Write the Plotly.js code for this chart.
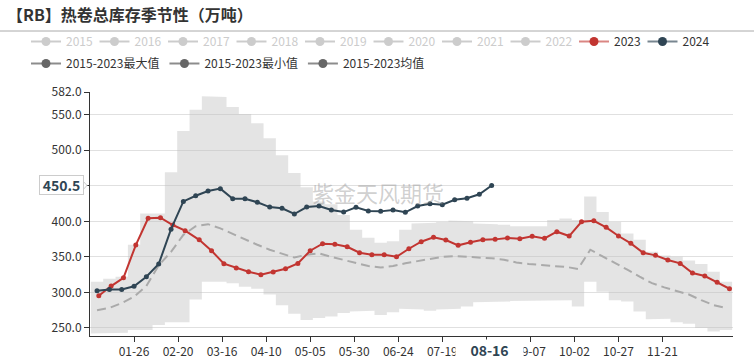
<!DOCTYPE html>
<html><head><meta charset="utf-8">
<script src="https://cdn.plot.ly/plotly-3.0.1.min.js"></script>
<style>html,body{margin:0;padding:0;background:#fff}#chart{width:754px;height:360px}</style>
</head><body><div id="chart"></div>
<script>
const titleText = '【RB】热卷总库存季节性（万吨）';
const watermarkText = '紫金天风期货';

// weekly positions (2024 Fridays) used by 2024 data and 2015-2023 statistics
const weekDates = ['2024-01-05','2024-01-12','2024-01-19','2024-01-26','2024-02-02','2024-02-09','2024-02-16','2024-02-23',
  '2024-03-01','2024-03-08','2024-03-15','2024-03-22','2024-03-29','2024-04-05','2024-04-12','2024-04-19','2024-04-26',
  '2024-05-03','2024-05-10','2024-05-17','2024-05-24','2024-05-31','2024-06-07','2024-06-14','2024-06-21','2024-06-28',
  '2024-07-05','2024-07-12','2024-07-19','2024-07-26','2024-08-02','2024-08-09','2024-08-16','2024-08-23','2024-08-30',
  '2024-09-06','2024-09-13','2024-09-20','2024-09-27','2024-10-04','2024-10-11','2024-10-18','2024-10-25',
  '2024-11-01','2024-11-08','2024-11-15','2024-11-22','2024-11-29','2024-12-06','2024-12-13','2024-12-20','2024-12-27'];

// 2023 weekly dates, month-day placed on the seasonal axis
const dates2023 = ['2024-01-06','2024-01-13','2024-01-20','2024-01-27','2024-02-03','2024-02-10','2024-02-17','2024-02-24',
  '2024-03-03','2024-03-10','2024-03-17','2024-03-24','2024-03-31','2024-04-07','2024-04-14','2024-04-21','2024-04-28',
  '2024-05-05','2024-05-12','2024-05-19','2024-05-26','2024-06-02','2024-06-09','2024-06-16','2024-06-23','2024-06-30',
  '2024-07-07','2024-07-14','2024-07-21','2024-07-28','2024-08-04','2024-08-11','2024-08-18','2024-08-25',
  '2024-09-01','2024-09-08','2024-09-15','2024-09-22','2024-09-29','2024-10-06','2024-10-13','2024-10-20','2024-10-27',
  '2024-11-03','2024-11-10','2024-11-17','2024-11-24','2024-12-01','2024-12-08','2024-12-15','2024-12-22','2024-12-29'];

const values2023 = [295.2,308.9,320.6,366.6,404.2,405.1,394.8,386.8,374.0,358.6,
  340.3,334.2,329.0,324.8,328.6,333.2,340.8,358.6,368.5,367.6,
  364.2,355.8,353.0,353.0,350.1,361.4,371.3,377.5,373.7,366.2,
  370.4,374.1,374.6,376.5,375.5,378.9,376.0,385.4,379.3,399.4,
  400.8,391.5,379.3,369.0,355.8,352.1,345.5,340.8,327.2,323.0,
  314.1,305.1];

const dates2024 = weekDates.slice(0, 33);
const values2024 = [302.3,304.2,304.2,308.5,322.0,339.9,389.0,428.0,436.0,442.7,
  446.0,431.8,431.8,426.8,420.0,418.3,410.3,420.1,421.5,416.0,
  413.0,419.7,414.5,414.0,416.0,412.7,421.5,424.8,423.4,430.4,
  432.4,438.0,450.5];

const bandMax = [315,319,322,367,411,411,469,527,557,576,
  575,561,551,538,517,493,468,448,428,424,
  409,388,377,370,372,388,397,398,399,401,
  400,397,396,395,393,392,393,402,404,402,
  435,413,399,383,374,357,352,350,345,340,
  329,315];
const bandMin = [242,242,243,247,247,254,258,258,290,315,
  315,313,308,305,297,282,270,261,264,266,
  271,273,274,268,272,277,276,274,276,277,
  280,286,287,287,288,288,288,288,289,280,
  315,301,289,287,273,262,263,258,256,250,
  245,247];
const bandMean = [275,278,285,294,309,338,357,381,393,396,
  390,382,375,367,360,354,349,353,355,350,
  346,341,337,335,337,341,344,347,350,351,
  350,350,348,346,342,340,338,337,336,333,
  360,351,341,332,322,313,307,302,297,289,
  282,278];

const hiddenYears = ['2015','2016','2017','2018','2019','2020','2021','2022'];
const tickDates = ['2024-01-26','2024-02-20','2024-03-16','2024-04-10','2024-05-05','2024-05-30','2024-06-24',
  '2024-07-19','2024-08-13','2024-09-07','2024-10-02','2024-10-27','2024-11-21'];
const tickLabels = ['01-26','02-20','03-16','04-10','05-05','05-30','06-24','07-19','08-13','09-07','10-02','10-27','11-21'];
const yTicks = [250,300,350,400,450,500,550,582];
const pointerDate = '2024-08-16';
const pointerDateLabel = '08-16';

const C23 = '#c23531', C24 = '#2f4554';
const FONT = 'Noto Sans CJK SC, Noto Sans, sans-serif';
const L = 90, R = 21, T = 92, B = 24, W = 754 - L - R, H = 360 - T - B;
const px2x = p => (p - L) / W;
const py2y = p => 1 - (p - T) / H;
const lastVal = values2024[values2024.length - 1];
const yPerPx = (582 - 238.6) / H;

// labels hidden under the axis-pointer labels (450.5 / 08-16)
const yTickText = yTicks.map(v => v === 450 ? '' : v.toFixed(1));
const xTickText = tickLabels.map(t => t === '08-13' ? '' : t);

// max-min band: each week spans +-3.5 days around its date (step outline, one closed polygon)
const HALF_WEEK = 3.5 * 86400000;
const iso = ms => new Date(ms).toISOString().slice(0, 19).replace('T', ' ');
const bandX = [], bandY = [];
weekDates.forEach((d, i) => {
  const t = Date.parse(d + 'T00:00:00Z');
  bandX.push(iso(t - HALF_WEEK), iso(t + HALF_WEEK));
  bandY.push(bandMax[i], bandMax[i]);
});
for (let i = weekDates.length - 1; i >= 0; i--) {
  const t = Date.parse(weekDates[i] + 'T00:00:00Z');
  bandX.push(iso(t + HALF_WEEK), iso(t - HALF_WEEK));
  bandY.push(bandMin[i], bandMin[i]);
}

const traces = [];
traces.push({
  type: 'scatter', mode: 'lines', x: bandX, y: bandY, fill: 'toself',
  fillcolor: 'rgba(190,190,190,0.42)', line: {width: 0, color: 'rgba(0,0,0,0)'},
  showlegend: false, hoverinfo: 'skip'
});
traces.push({
  type: 'scatter', mode: 'lines', x: weekDates, y: bandMean,
  line: {color: '#aaaaaa', width: 2, dash: '9px,5px'}, showlegend: false, hoverinfo: 'skip'
});
traces.push({
  type: 'scatter', mode: 'lines+markers', x: dates2023, y: values2023,
  line: {color: C23, width: 2}, marker: {color: C23, size: 5}, showlegend: false
});
traces.push({
  type: 'scatter', mode: 'lines+markers', x: dates2024, y: values2024,
  line: {color: C24, width: 2}, marker: {color: C24, size: 5}, showlegend: false
});

// legend entries
hiddenYears.forEach(yr => traces.push({
  type: 'scatter', mode: 'lines+markers', x: [null], y: [null], legend: 'legend',
  name: '<span style="color:#cccccc">' + yr + '</span>',
  line: {color: '#cccccc', width: 2}, marker: {color: '#cccccc', size: 9}
}));
traces.push({type: 'scatter', mode: 'lines+markers', x: [null], y: [null], legend: 'legend', name: '2023',
  line: {color: 'rgba(194,53,49,0.6)', width: 2}, marker: {color: C23, size: 9}});
traces.push({type: 'scatter', mode: 'lines+markers', x: [null], y: [null], legend: 'legend', name: '2024',
  line: {color: 'rgba(47,69,84,0.65)', width: 2}, marker: {color: C24, size: 9}});
['2015-2023最大值','2015-2023最小值','2015-2023均值'].forEach(n => traces.push({
  type: 'scatter', mode: 'lines+markers', x: [null], y: [null], legend: 'legend2', name: n,
  line: {color: 'rgba(102,102,102,0.75)', width: 2}, marker: {color: '#666666', size: 9}
}));

const legendBase = {
  orientation: 'h', xanchor: 'left', yanchor: 'middle', x: px2x(26),
  font: {family: FONT, size: 12, color: '#333'}, bgcolor: 'rgba(0,0,0,0)', borderwidth: 0,
  itemclick: false, itemdoubleclick: false
};

const layout = {
  width: 754, height: 360,
  margin: {l: L, r: R, t: T, b: B, autoexpand: false},
  paper_bgcolor: '#fff', plot_bgcolor: '#fff',
  font: {family: FONT, size: 12, color: '#333'},
  title: {text: '<b>' + titleText + '</b>', xref: 'container', yref: 'container',
    x: 7 / 754, xanchor: 'left', y: 1 - 15 / 360, yanchor: 'middle',
    font: {family: FONT, size: 16, color: '#333'}},
  showlegend: true,
  legend: Object.assign({}, legendBase, {y: py2y(41.5), entrywidth: 23.5, entrywidthmode: 'pixels'}),
  legend2: Object.assign({}, legendBase, {y: py2y(63.5)}),
  xaxis: {
    type: 'date', range: ['2024-01-01', '2024-12-31'], showgrid: false, zeroline: false,
    showline: true, linecolor: '#333', linewidth: 1, ticks: 'outside', ticklen: 5, tickcolor: '#333',
    tickvals: tickDates, ticktext: xTickText, tickfont: {size: 12, color: '#333'}, fixedrange: true
  },
  yaxis: {
    range: [238.6, 582], showgrid: true, gridcolor: '#e0e0e0', gridwidth: 1, zeroline: false,
    showline: true, linecolor: '#333', linewidth: 1, ticks: 'outside', ticklen: 5, tickcolor: '#333',
    tickvals: yTicks, ticktext: yTickText, tickfont: {size: 12, color: '#333'}, fixedrange: true
  },
  shapes: [
    {type: 'line', xref: 'paper', yref: 'paper', x0: px2x(0), x1: px2x(754), y0: py2y(31), y1: py2y(31),
      line: {color: '#aaaaaa', width: 1}},
    {type: 'path', xref: 'paper', yref: 'y',
      path: 'M' + px2x(81.5) + ',' + (lastVal + 6 * yPerPx) + ' L' + px2x(87) + ',' + lastVal +
            ' L' + px2x(81.5) + ',' + (lastVal - 6 * yPerPx) + ' Z',
      line: {color: '#cccccc', width: 1}, fillcolor: '#ffffff'}
  ],
  annotations: [
    {text: watermarkText, xref: 'paper', yref: 'paper', x: px2x(378), y: py2y(192), showarrow: false,
      xanchor: 'center', yanchor: 'middle',
      font: {family: FONT, size: 22, color: 'rgba(150,150,150,0.45)'}},
    {text: '<b>' + lastVal.toFixed(1) + '</b>', xref: 'paper', yref: 'y',
      x: px2x(61), y: lastVal, xanchor: 'center', yanchor: 'middle', showarrow: false, width: 43, height: 18,
      bgcolor: '#fff', bordercolor: '#cccccc', borderwidth: 1, borderpad: 0,
      font: {family: FONT, size: 14, color: C24}},
    {text: '<b>' + pointerDateLabel + '</b>', xref: 'x', yref: 'paper', x: pointerDate, y: py2y(349.5),
      xanchor: 'center', yanchor: 'middle', xshift: -2,
      showarrow: false, width: 67, height: 20, bgcolor: '#fff', borderpad: 0,
      font: {family: FONT, size: 14, color: C24}}
  ]
};

Plotly.newPlot('chart', traces, layout, {staticPlot: true, displayModeBar: false});
</script>
</body></html>
